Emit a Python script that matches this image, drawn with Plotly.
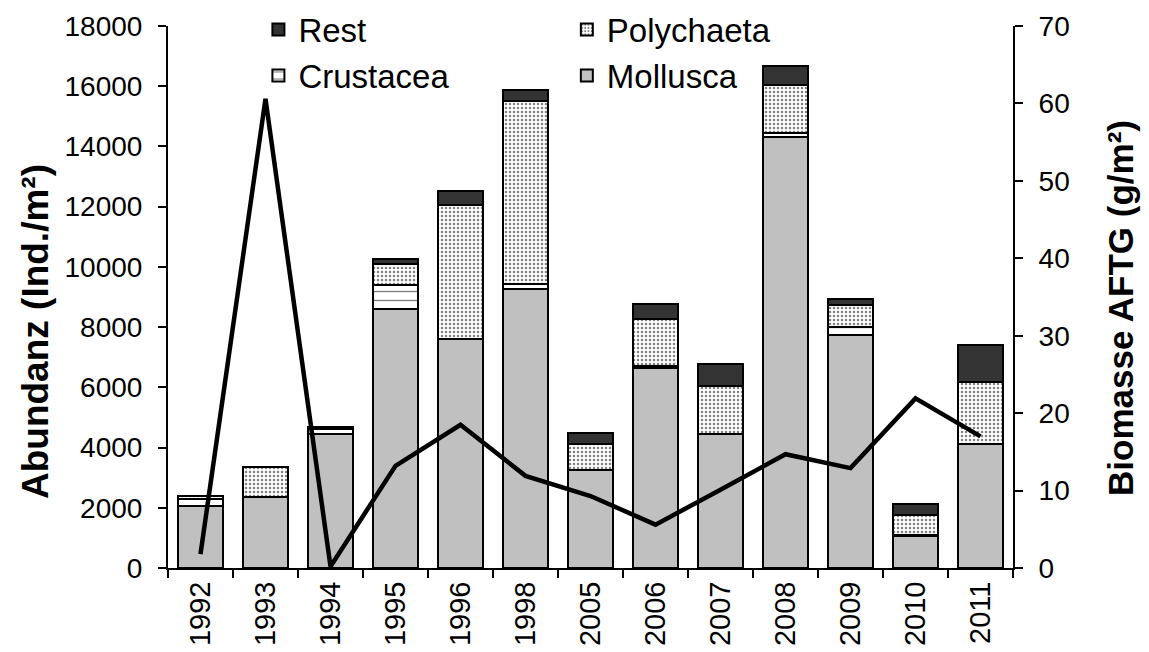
import plotly.graph_objects as go

jahre = ["1992", "1993", "1994", "1995", "1996", "1998", "2005",
         "2006", "2007", "2008", "2009", "2010", "2011"]

mollusca = [2050, 2350, 4450, 8600, 7620, 9270, 3260, 6650, 4450, 14300, 7730, 1060, 4120]
crustacea = [250, 0, 150, 800, 0, 170, 0, 50, 0, 150, 280, 50, 0]
polychaeta = [100, 1000, 0, 700, 4420, 6060, 860, 1580, 1580, 1580, 730, 640, 2050]
rest = [0, 0, 80, 150, 490, 360, 360, 490, 740, 630, 200, 360, 1220]

biomasse = [1.8, 60.6, 0.2, 13.2, 18.5, 11.9, 9.3, 5.6, 10.1, 14.7, 12.9, 21.9, 17.0]

schrift = "Liberation Sans, Arial, sans-serif"
rand = dict(color="black", width=2)

fig = go.Figure()

# gestapelte balken, reihenfolge von unten nach oben
fig.add_trace(go.Bar(x=jahre, y=mollusca, name="Mollusca",
                     marker=dict(color="#c0c0c0", line=rand),
                     legend="legend2", legendgroup="m"))
fig.add_trace(go.Bar(x=jahre, y=crustacea, name="Crustacea",
                     marker=dict(color="white", line=rand,
                                 pattern=dict(shape="-", fgcolor="black", bgcolor="white",
                                              size=9, solidity=0.15)),
                     legend="legend", legendgroup="c"))
fig.add_trace(go.Bar(x=jahre, y=polychaeta, name="Polychaeta",
                     marker=dict(color="white", line=rand,
                                 pattern=dict(shape=".", fgcolor="black", bgcolor="white",
                                              size=4, solidity=0.3)),
                     legend="legend2", legendgroup="p"))
fig.add_trace(go.Bar(x=jahre, y=rest, name="Rest",
                     marker=dict(color="#333333", line=rand),
                     legend="legend", legendgroup="r"))

# biomasse als linie auf der rechten achse
fig.add_trace(go.Scatter(x=jahre, y=biomasse, mode="lines", yaxis="y2",
                         line=dict(color="black", width=4.5), showlegend=False))

achse = dict(showline=True, linecolor="black", linewidth=2,
             ticks="outside", ticklen=8, tickcolor="black", tickwidth=2,
             ticklabeloverflow="allow")

fig.update_layout(
    width=1149, height=652,
    barmode="stack", bargap=0.32,
    plot_bgcolor="white", paper_bgcolor="white",
    font=dict(family=schrift, color="black", size=28),
    margin=dict(l=160, r=144, t=18, b=92, autoexpand=False),
    xaxis=dict(type="category", tickangle=-90, tickfont=dict(size=29),
               tickson="boundaries", **achse),
    yaxis=dict(range=[0, 18000], dtick=2000, tickformat="d", showgrid=False,
               zeroline=False, ticklabelstandoff=10, **achse),
    yaxis2=dict(range=[0, 70], dtick=10, overlaying="y", side="right",
                showgrid=False, zeroline=False, ticklabelstandoff=10, **achse),
    legend=dict(x=0.107, y=1.045, xanchor="left", yanchor="top",
                font=dict(size=33), tracegroupgap=49, bgcolor="rgba(0,0,0,0)",
                traceorder="reversed"),
    legend2=dict(x=0.472, y=1.045, xanchor="left", yanchor="top",
                 font=dict(size=33), tracegroupgap=49, bgcolor="rgba(0,0,0,0)",
                 traceorder="reversed"),
    annotations=[
        dict(text="<b>Abundanz (Ind./m²)</b>", xref="paper", yref="paper",
             x=-0.157, y=0.436, xanchor="center", yanchor="middle",
             textangle=-90, showarrow=False, font=dict(size=37)),
        dict(text="<b>Biomasse AFTG (g/m²)</b>", xref="paper", yref="paper",
             x=1.128, y=0.48, xanchor="center", yanchor="middle",
             textangle=-90, showarrow=False, font=dict(size=35)),
    ],
)

fig.write_html("out.html")
